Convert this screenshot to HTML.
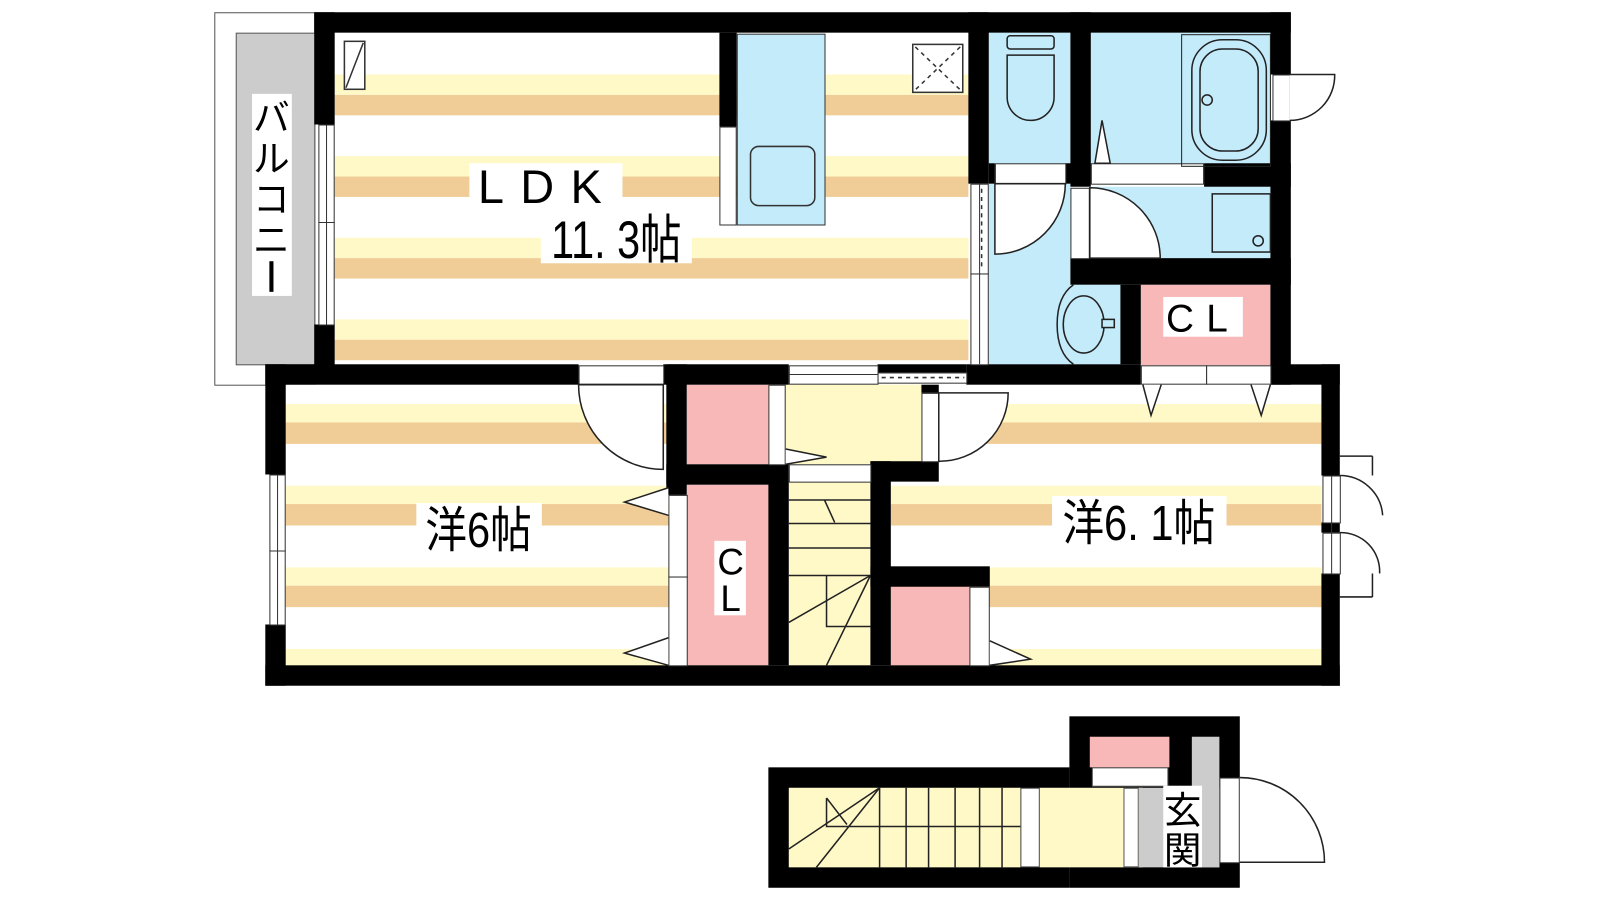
<!DOCTYPE html>
<html><head><meta charset="utf-8"><style>
html,body{margin:0;padding:0;background:#fff;}
svg{display:block;}
text{font-family:"Liberation Sans","Noto Sans CJK JP",sans-serif;fill:#000;}
</style></head><body>
<svg width="1600" height="900" viewBox="0 0 1568 882" preserveAspectRatio="none" xmlns="http://www.w3.org/2000/svg">
<!-- Balcony -->
<rect x="210.5" y="12.5" width="98" height="365" fill="#fff" stroke="#555" stroke-width="1"/>
<rect x="231.5" y="32.5" width="77" height="325" fill="#ccc" stroke="#555" stroke-width="1"/>
<rect x="247" y="92" width="39" height="198" fill="#fff"/>
<text x="266" y="128" font-size="36" text-anchor="middle">バ</text>
<text x="266" y="168" font-size="36" text-anchor="middle">ル</text>
<text x="266" y="208" font-size="36" text-anchor="middle">コ</text>
<text x="266" y="248" font-size="36" text-anchor="middle">ニ</text>
<rect x="264" y="256" width="4" height="30" fill="#000"/>

<!-- LDK floor -->
<rect x="328" y="32" width="621" height="326" fill="#fff"/>
<g fill="#fff9c8"><rect x="328" y="73" width="621" height="20"/><rect x="328" y="153" width="621" height="20"/><rect x="328" y="233" width="621" height="20"/><rect x="328" y="313" width="621" height="20"/></g>
<g fill="#f0cc96"><rect x="328" y="93" width="621" height="20"/><rect x="328" y="173" width="621" height="20"/><rect x="328" y="253" width="621" height="20"/><rect x="328" y="333" width="621" height="20"/></g>

<!-- Lower rooms floor -->
<rect x="280" y="377" width="375" height="275" fill="#fff"/>
<rect x="873" y="377" width="422" height="275" fill="#fff"/>
<g fill="#fff9c8"><rect x="280" y="396" width="375" height="18"/><rect x="280" y="476" width="375" height="18"/><rect x="280" y="556" width="375" height="18"/><rect x="280" y="636" width="375" height="18"/>
<rect x="873" y="396" width="422" height="18"/><rect x="873" y="476" width="422" height="18"/><rect x="873" y="556" width="422" height="18"/><rect x="873" y="636" width="422" height="18"/></g>
<g fill="#f0cc96"><rect x="280" y="414" width="375" height="21"/><rect x="280" y="494" width="375" height="21"/><rect x="280" y="574" width="375" height="21"/>
<rect x="873" y="414" width="422" height="21"/><rect x="873" y="494" width="422" height="21"/><rect x="873" y="574" width="422" height="21"/></g>

<!-- wet area -->
<g fill="#c4ebfa">
<rect x="969" y="32" width="80" height="131"/>
<rect x="1069" y="32" width="176" height="131"/>
<rect x="1069" y="183" width="176" height="75"/>
<rect x="969" y="180" width="80" height="177"/>
<rect x="1049" y="279" width="49" height="78"/>
</g>
<rect x="1118" y="279" width="127" height="79" fill="#f9b8b8"/>
<rect x="1140" y="291" width="78" height="39" fill="#fff"/>
<text x="1179" y="325" font-size="38" text-anchor="middle" letter-spacing="12">CL</text>

<!-- middle -->
<rect x="673" y="377" width="80" height="78" fill="#f9b8b8"/>
<rect x="770" y="377" width="134" height="78" fill="#fff9c8"/>
<rect x="773" y="472" width="80" height="180" fill="#fff9c8"/>
<rect x="673" y="475" width="80" height="177" fill="#f9b8b8"/>
<rect x="873" y="575" width="77" height="77" fill="#f9b8b8"/>
<rect x="700" y="530" width="31" height="73" fill="#fff"/>
<text x="716" y="563" font-size="36" text-anchor="middle">C</text>
<text x="716" y="599" font-size="36" text-anchor="middle">L</text>

<!-- walls -->
<g fill="#000">
<rect x="308" y="12" width="957" height="20"/>
<rect x="308" y="12" width="20" height="110"/>
<rect x="308" y="318" width="20" height="50"/>
<rect x="949" y="12" width="20" height="168"/>
<rect x="1049" y="12" width="20" height="171"/>
<rect x="1245" y="12" width="20" height="61"/>
<rect x="1245" y="118" width="20" height="259"/>
<rect x="969" y="160" width="6" height="20"/>
<rect x="1044" y="160" width="25" height="20"/>
<rect x="1180" y="160" width="85" height="23"/>
<rect x="1049" y="253" width="216" height="26"/>
<rect x="1098" y="279" width="20" height="78"/>
<rect x="705" y="32" width="17" height="92"/>
<rect x="260" y="357" width="307" height="20"/>
<rect x="650" y="357" width="123" height="20"/>
<rect x="947" y="357" width="171" height="20"/>
<rect x="1245" y="357" width="68" height="20"/>
<rect x="860" y="357" width="87" height="8"/>
<rect x="260" y="357" width="20" height="108"/>
<rect x="260" y="612" width="20" height="60"/>
<rect x="260" y="652" width="1053" height="20"/>
<rect x="1295" y="357" width="18" height="109"/>
<rect x="1295" y="512" width="18" height="10"/>
<rect x="1295" y="562" width="18" height="110"/>
<rect x="653" y="357" width="20" height="128"/>
<rect x="653" y="455" width="117" height="20"/>
<rect x="753" y="455" width="20" height="197"/>
<rect x="853" y="452" width="67" height="20"/>
<rect x="853" y="452" width="20" height="200"/>
<rect x="903" y="377" width="17" height="8"/>
<rect x="853" y="555" width="117" height="20"/>
</g>

<!-- windows/frames -->
<g fill="#fff" stroke="#333" stroke-width="1">
<rect x="312.5" y="122.5" width="15" height="196"/>
<rect x="705.5" y="124.5" width="16" height="96"/>
<rect x="951.5" y="180.5" width="17" height="88"/>
<rect x="951.5" y="268.5" width="17" height="89"/>
<rect x="975.5" y="160.5" width="69" height="20"/>
<rect x="1069.5" y="160.5" width="110" height="20"/>
<rect x="1049.5" y="184.5" width="18" height="69"/>
<rect x="1247.5" y="73.5" width="17" height="45"/>
<rect x="1118.5" y="358.5" width="64" height="18"/>
<rect x="1182.5" y="358.5" width="63" height="18"/>
<rect x="567.5" y="358.5" width="83" height="18"/>
<rect x="773.5" y="358.5" width="87" height="18"/>
<rect x="860.5" y="365.5" width="87" height="10"/>
<rect x="264.5" y="465.5" width="15" height="147"/>
<rect x="753.5" y="377.5" width="16" height="78"/>
<rect x="773.5" y="455.5" width="80" height="17"/>
<rect x="903.5" y="385.5" width="17" height="67"/>
<rect x="655.5" y="485.5" width="18" height="80"/>
<rect x="655.5" y="565.5" width="18" height="87"/>
<rect x="950.5" y="575.5" width="19" height="77"/>
<rect x="1296.5" y="466.5" width="17" height="46"/>
<rect x="1296.5" y="522.5" width="17" height="40"/>
</g>
<g stroke="#333" stroke-width="1" fill="none">
<line x1="320" y1="122" x2="320" y2="318"/><line x1="312" y1="218" x2="328" y2="218"/>
<line x1="272" y1="465" x2="272" y2="612"/><line x1="264" y1="540" x2="280" y2="540"/>
<line x1="773" y1="367" x2="860" y2="367"/>
<line x1="960" y1="180" x2="960" y2="357"/>
<line x1="1305" y1="466" x2="1305" y2="562"/>
</g>
<g stroke="#333" stroke-width="1.5" stroke-dasharray="4,4" fill="none">
<line x1="962" y1="185" x2="962" y2="265"/>
<line x1="864" y1="370" x2="945" y2="370"/>
</g>

<!-- LDK fixtures -->
<rect x="722.5" y="33.5" width="86" height="187" fill="#c4ebfa" stroke="#333"/>
<rect x="735.5" y="143.5" width="63" height="58" rx="8" fill="#c4ebfa" stroke="#333" stroke-width="1.5"/>
<rect x="337.5" y="40.5" width="20" height="47" fill="#fff" stroke="#333" stroke-width="1.5"/>
<line x1="339" y1="86" x2="356" y2="42" stroke="#333" stroke-width="1.5"/>
<rect x="894.5" y="43.5" width="49" height="47" fill="#fff" stroke="#333" stroke-width="1.5"/>
<g stroke="#333" stroke-width="1.5" stroke-dasharray="4,4"><line x1="897" y1="46" x2="941" y2="88"/><line x1="941" y1="46" x2="897" y2="88"/></g>

<!-- labels -->
<rect x="460" y="160" width="150" height="40" fill="#fff"/>
<text x="537" y="199" font-size="46" text-anchor="middle" letter-spacing="16">LDK</text>
<rect x="530" y="210" width="148" height="48" fill="#fff"/>
<text x="604" y="253" font-size="52" text-anchor="middle" transform="translate(604 0) scale(0.78 1) translate(-604 0)">11. 3帖</text>
<rect x="408" y="493" width="123" height="46" fill="#fff"/>
<text x="469" y="536" font-size="48" text-anchor="middle" transform="translate(469 0) scale(0.85 1) translate(-469 0)">洋6帖</text>
<rect x="1031" y="486" width="171" height="46" fill="#fff"/>
<text x="1116" y="529" font-size="48" text-anchor="middle" transform="translate(1116 0) scale(0.85 1) translate(-1116 0)">洋6. 1帖</text>

<!-- wet fixtures -->
<g stroke="#222" stroke-width="1.5" fill="#c4ebfa">
<rect x="987" y="35" width="46" height="13" rx="3"/>
<path d="M987,54 L1033,54 L1033,95 A23,23 0 0 1 987,95 Z"/>
<rect x="1158" y="34" width="87" height="129" fill="none" stroke-width="1"/>
<rect x="1168" y="39" width="73" height="118" rx="30"/>
<rect x="1176" y="48" width="57" height="100" rx="22"/>
<circle cx="1183" cy="98" r="5"/>
<rect x="1188" y="190" width="57" height="57" fill="#c4ebfa"/>
<circle cx="1233" cy="236" r="5"/>
<path d="M1052,279 Q1036,290 1036,318 Q1036,346 1052,357" fill="none"/>
<ellipse cx="1062" cy="318" rx="20" ry="28"/>
<rect x="1080" y="313" width="12" height="8"/>
</g>
<path d="M1073,160 L1080,118 L1088,160 Z" fill="#fff" stroke="#222" stroke-width="1.5"/>

<!-- doors -->
<g stroke="#222" stroke-width="1.5" fill="#fff">
<path d="M975,180 L1044,180 A69,69 0 0 1 975,249 Z"/>
<path d="M1068,184 A69,69 0 0 1 1137,253 L1068,253 Z"/>
<path d="M1264,73 L1308,73 A44,44 0 0 1 1264,118"/>
<path d="M650,377 L650,460 A83,83 0 0 1 567,377 Z"/>
<path d="M920,385 L988,385 A67,67 0 0 1 920,452 Z"/>
<path d="M1313,447 L1345,447 M1313,585 L1345,585" fill="none"/>
<path d="M1313,466 A42,42 0 0 1 1355,505 M1313,522 A38,38 0 0 1 1352,562" fill="none"/>
<path d="M1345,447 L1345,466 M1345,562 L1345,585" fill="none"/>
</g>
<g stroke="#222" stroke-width="1.5" fill="#fff">
<path d="M655,478 L612,492 L655,505"/>
<path d="M655,625 L612,640 L655,652"/>
<path d="M770,440 L810,448 L770,455"/>
<path d="M970,628 L1010,646 L970,652"/>
<path d="M1120,377 L1128,407 L1138,377"/>
<path d="M1226,377 L1236,407 L1245,377"/>
</g>

<!-- upper stairs -->
<g stroke="#222" stroke-width="1.5" fill="none">
<line x1="773" y1="490" x2="853" y2="490"/>
<line x1="773" y1="513" x2="853" y2="513"/>
<line x1="773" y1="537" x2="853" y2="537"/>
<line x1="773" y1="564" x2="853" y2="564"/>
<path d="M810,564 L810,614 L853,614"/>
<line x1="853" y1="564" x2="773" y2="610"/>
<line x1="853" y1="564" x2="810" y2="652"/>
<line x1="808" y1="490" x2="818" y2="512"/>
</g>

<!-- entrance block -->
<rect x="753" y="752" width="295" height="118" fill="#000"/>
<rect x="1048" y="702" width="167" height="168" fill="#000"/>
<rect x="773" y="772" width="227" height="78" fill="#fff9c8"/>
<rect x="1000.5" y="772.5" width="18" height="77" fill="#fff" stroke="#555"/>
<rect x="1019" y="772" width="101" height="78" fill="#fff9c8"/>
<rect x="1101.5" y="772.5" width="14" height="77" fill="#fff" stroke="#555"/>
<rect x="1116" y="772" width="79" height="78" fill="#ccc"/>
<rect x="1168" y="722" width="27" height="128" fill="#ccc"/>
<rect x="1068" y="722" width="78" height="30" fill="#f9b8b8"/>
<rect x="1070.5" y="752.5" width="74" height="18" fill="#fff" stroke="#555"/>
<rect x="1140" y="770" width="38" height="80" fill="#fff"/>
<text x="1159" y="807" font-size="37" text-anchor="middle">玄</text>
<text x="1159" y="846" font-size="37" text-anchor="middle">関</text>
<rect x="1195.5" y="762.5" width="19" height="83" fill="#fff" stroke="#333"/>
<path d="M1215,762 A83,83 0 0 1 1298,845 L1215,845" fill="#fff" stroke="#222" stroke-width="1.5"/>
<g stroke="#222" stroke-width="1.5" fill="none">
<line x1="862" y1="772" x2="862" y2="850"/>
<line x1="888" y1="772" x2="888" y2="850"/>
<line x1="910" y1="772" x2="910" y2="850"/>
<line x1="936" y1="772" x2="936" y2="850"/>
<line x1="960" y1="772" x2="960" y2="850"/>
<line x1="982" y1="772" x2="982" y2="850"/>
<path d="M810,782 L810,810 L1000,810"/>
<line x1="773" y1="832" x2="862" y2="772"/>
<line x1="800" y1="850" x2="862" y2="772"/>
<line x1="810" y1="782" x2="830" y2="808"/>
</g>
</svg>
</body></html>
